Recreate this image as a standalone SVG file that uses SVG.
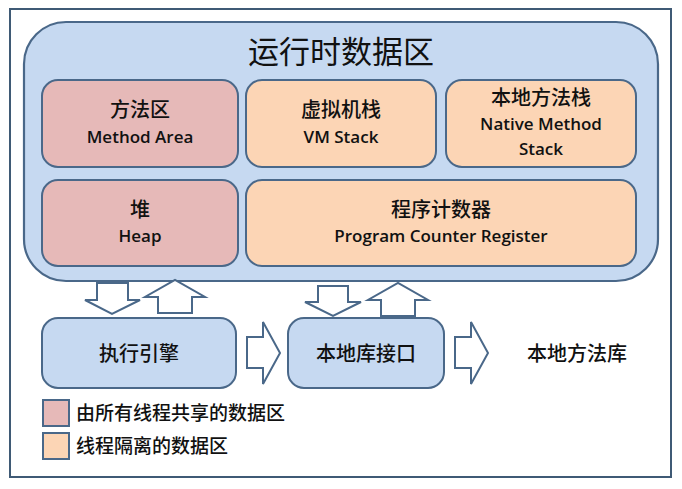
<svg xmlns="http://www.w3.org/2000/svg" width="682" height="489" viewBox="0 0 682 489">
<style>
.frame{fill:#ffffff;stroke:#3f5a75;stroke-width:2}
.big{fill:#c6d9f1;stroke:#4a6889;stroke-width:2.2}
.pink{fill:#e6b9b8;stroke:#4a6889;stroke-width:2}
.orange{fill:#fcd5b5;stroke:#4a6889;stroke-width:2}
.blue{fill:#c6d9f1;stroke:#4a6889;stroke-width:2}
.arr{fill:#ffffff;stroke:#4a6889;stroke-width:2;stroke-linejoin:miter}
text{font-family:"Noto Sans CJK SC","Noto Sans",sans-serif;fill:#111;text-anchor:middle}
.zh{font-size:20px;font-weight:500}
.en{font-family:"Open Sans","Noto Sans","Noto Sans CJK SC",sans-serif;font-size:17px;font-weight:600}
.title{font-size:31px;font-weight:400}
.leg{font-size:19px;font-weight:500;text-anchor:start}
</style>
<rect class="frame" x="10" y="9" width="661" height="468"/>
<g id="runtime-data-area">
<rect class="big" x="24" y="22" width="634" height="259" rx="42"/>
<text class="title" x="341" y="63">运行时数据区</text>
</g>
<g id="method-area">
<rect class="pink" x="42" y="80" width="196" height="87" rx="16"/>
<text class="zh" x="140" y="117">方法区</text>
<text class="en" x="140" y="143">Method Area</text>
</g>
<g id="vm-stack">
<rect class="orange" x="246" y="80" width="190" height="87" rx="16"/>
<text class="zh" x="341" y="117">虚拟机栈</text>
<text class="en" x="341" y="143">VM Stack</text>
</g>
<g id="native-method-stack">
<rect class="orange" x="446" y="80" width="190" height="87" rx="16"/>
<text class="zh" x="541" y="105">本地方法栈</text>
<text class="en" x="541" y="130">Native Method</text>
<text class="en" x="541" y="155">Stack</text>
</g>
<g id="heap">
<rect class="pink" x="42" y="180" width="196" height="86" rx="16"/>
<text class="zh" x="140" y="217">堆</text>
<text class="en" x="140" y="242">Heap</text>
</g>
<g id="program-counter-register">
<rect class="orange" x="246" y="180" width="390" height="86" rx="16"/>
<text class="zh" x="441" y="217">程序计数器</text>
<text class="en" x="441" y="242">Program Counter Register</text>
</g>
<g id="execution-engine">
<rect class="blue" x="42" y="318" width="194" height="70" rx="16"/>
<text class="zh" x="139" y="361">执行引擎</text>
</g>
<g id="native-interface">
<rect class="blue" x="288" y="318" width="156" height="70" rx="16"/>
<text class="zh" x="366" y="361">本地库接口</text>
</g>
<g id="native-library">
<text class="zh" x="577" y="361">本地方法库</text>
</g>
<g id="connectors">
<polygon class="arr" points="97,283 128,283 128,300 140,300 112,314 85,300 97,300"/>
<polygon class="arr" points="158,313 192,313 192,297 205,297 175,280 145,297 158,297"/>
<polygon class="arr" points="318,286 348,286 348,302 361,302 333,316 305,302 318,302"/>
<polygon class="arr" points="381,316 415,316 415,300 428,300 398,283 368,300 381,300"/>
<polygon class="arr" points="247,337 263,337 263,322 280,353 263,384 263,368 247,368"/>
<polygon class="arr" points="455,337 471,337 471,322 488,353 471,384 471,368 455,368"/>
</g>
<g id="legend">
<rect class="pink" x="43" y="400" width="26" height="26"/>
<text class="leg" x="76" y="420">由所有线程共享的数据区</text>
<rect class="orange" x="43" y="433" width="26" height="26"/>
<text class="leg" x="76" y="453">线程隔离的数据区</text>
</g>
</svg>
